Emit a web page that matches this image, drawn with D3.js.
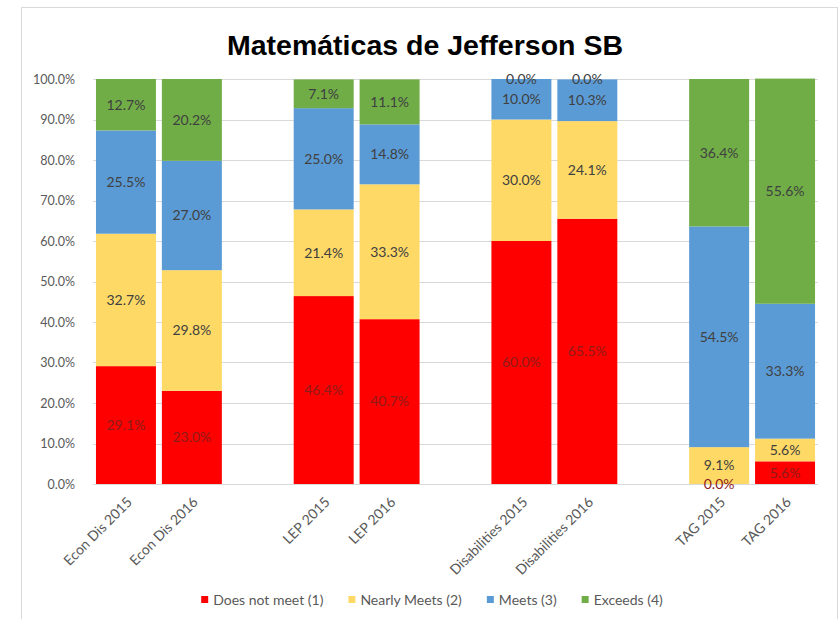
<!DOCTYPE html>
<html>
<head>
<meta charset="utf-8">
<script src="https://cdn.jsdelivr.net/npm/d3@7"></script>
<style>
  html, body { margin: 0; padding: 0; background: #fff; }
  svg { display: block; }
</style>
</head>
<body>
<svg id="chart" width="839" height="619"></svg>
<script>
// ---- data ----
const categories = ["Econ Dis 2015", "Econ Dis 2016", "", "LEP 2015", "LEP 2016", "", "Disabilities 2015", "Disabilities 2016", "", "TAG 2015", "TAG 2016"];
const seriesNames = ["Does not meet (1)", "Nearly Meets (2)", "Meets (3)", "Exceeds (4)"];
const doesNotMeet = [29.1, 23.0, null, 46.4, 40.7, null, 60.0, 65.5, null, 0.0, 5.6];
const nearlyMeets = [32.7, 29.8, null, 21.4, 33.3, null, 30.0, 24.1, null, 9.1, 5.6];
const meets       = [25.5, 27.0, null, 25.0, 14.8, null, 10.0, 10.3, null, 54.5, 33.3];
const exceeds     = [12.7, 20.2, null, 7.1, 11.1, null, 0.0, 0.0, null, 36.4, 55.6];
const yTicks = [0, 10, 20, 30, 40, 50, 60, 70, 80, 90, 100];
const titleText = "Matemáticas de Jefferson SB";

const colors = ["#FF0000", "#FFD966", "#5B9BD5", "#70AD47"];
const labelColors = ["#8e1b1b", "#404040", "#404040", "#404040"];

const svg = d3.select("#chart");
const font = "Lato, 'Open Sans', sans-serif";

// frame
svg.append("rect").attr("x", 21.5).attr("y", 7.5).attr("width", 816).attr("height", 620)
  .attr("fill", "#fff").attr("stroke", "#d9d9d9").attr("stroke-width", 1);

// title
svg.append("text").attr("x", 425).attr("y", 55).attr("text-anchor", "middle")
  .attr("font-family", "'Liberation Sans', Arial, sans-serif").attr("font-weight", "bold")
  .attr("font-size", 28.5).attr("fill", "#000").text(titleText);

const idx = d3.range(categories.length);
const x = d3.scaleBand().domain(idx).range([93, 818]).paddingInner(0.09).paddingOuter(0.045);
const y = d3.scaleLinear().domain([0, 100]).range([484, 79]);

// gridlines
svg.append("g").selectAll("line").data(yTicks).join("line")
  .attr("x1", 93).attr("x2", 818)
  .attr("y1", d => Math.round(y(d)) + 0.5).attr("y2", d => Math.round(y(d)) + 0.5)
  .attr("stroke", "#d9d9d9").attr("stroke-width", 1);

// y axis
const yAxis = d3.axisLeft(y).tickValues(yTicks).tickSize(0).tickPadding(0)
  .tickFormat(d => d.toFixed(1) + "%");
const gy = svg.append("g").attr("transform", "translate(75,0)").call(yAxis);
gy.select(".domain").remove();
gy.selectAll("text").attr("font-family", font).attr("font-size", 12.5).attr("fill", "#595959");

// stacked data
const table = idx.map(i => ({
  i,
  s0: doesNotMeet[i], s1: nearlyMeets[i], s2: meets[i], s3: exceeds[i]
})).filter(d => d.s0 !== null);
const keys = ["s0", "s1", "s2", "s3"];
const stacked = d3.stack().keys(keys)(table);

const layers = svg.append("g").selectAll("g").data(stacked).join("g")
  .attr("fill", (d, k) => colors[k]);
layers.selectAll("rect").data(d => d).join("rect")
  .attr("x", d => x(d.data.i))
  .attr("width", x.bandwidth())
  .attr("y", d => y(d[1]))
  .attr("height", d => Math.max(0, y(d[0]) - y(d[1])));

// labels
const labelG = svg.append("g");
stacked.forEach((layer, k) => {
  labelG.selectAll(null).data(layer).join("text")
    .attr("x", d => x(d.data.i) + x.bandwidth() / 2)
    .attr("y", d => y((d[0] + d[1]) / 2))
    .attr("dy", "0.35em")
    .attr("text-anchor", "middle")
    .attr("font-family", font).attr("font-size", 14)
    .attr("fill", labelColors[k])
    .text(d => d.data[layer.key].toFixed(1) + "%");
});

// x axis labels (rotated)
const xg = svg.append("g");
xg.selectAll("text").data(idx.filter(i => categories[i] !== "")).join("text")
  .attr("transform", i => `translate(${x(i) + x.bandwidth() / 2 + 7},${503}) rotate(-45)`)
  .attr("text-anchor", "end")
  .attr("font-family", font).attr("font-size", 14).attr("fill", "#595959")
  .text(i => categories[i]);

// legend
const legend = svg.append("g");
let lx = 0;
const gap = 25;
seriesNames.forEach((name, k) => {
  const g = legend.append("g");
  g.append("rect").attr("x", 0).attr("y", -4).attr("width", 7).attr("height", 7).attr("fill", colors[k]);
  const t = g.append("text").attr("x", 12).attr("y", 0).attr("dy", "0.35em")
    .attr("font-family", font).attr("font-size", 14).attr("fill", "#595959").text(name);
  const w = 12 + t.node().getComputedTextLength();
  g.attr("transform", `translate(${lx},600)`);
  lx += w + gap;
});
const totalW = lx - gap;
legend.attr("transform", `translate(${432 - totalW / 2},0)`);
</script>
</body>
</html>
